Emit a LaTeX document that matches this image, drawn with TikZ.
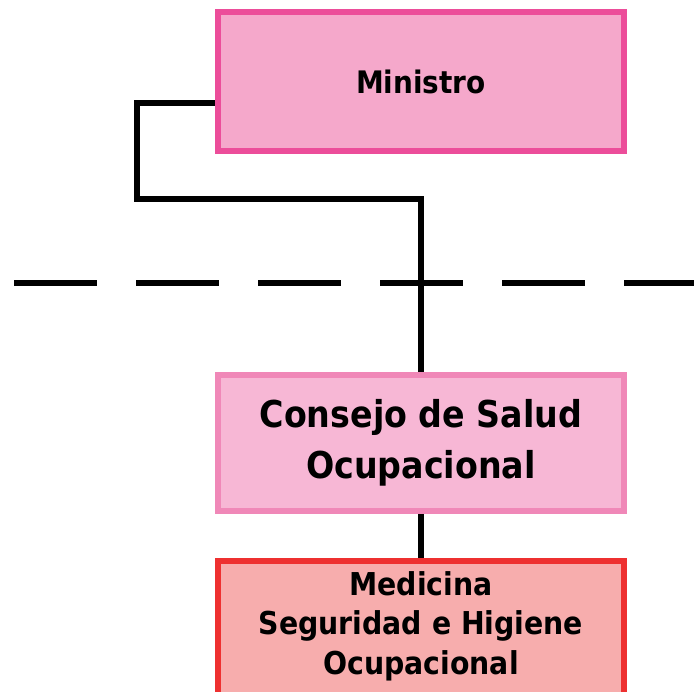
\documentclass[tikz,border=0pt]{standalone}
\usepackage{fontspec}
\setmainfont{DejaVu Sans Condensed}[BoldFont={DejaVu Sans Condensed Bold}]
\definecolor{minfill}{HTML}{F5A8CB}
\definecolor{mindraw}{HTML}{EC4D9A}
\definecolor{consfill}{HTML}{F7B7D5}
\definecolor{consdraw}{HTML}{F088B8}
\definecolor{medfill}{HTML}{F7ADAD}
\definecolor{meddraw}{HTML}{EE3030}
\tikzset{
  orgbox/.style={rectangle, line width=6.5pt, minimum width=406pt, inner sep=0pt, align=center, font=\bfseries},
  conn/.style={line width=6pt, black},
}
\begin{document}
\begin{tikzpicture}[x=1pt,y=-1pt]
\useasboundingbox (0,0) rectangle (694,692);
\clip (0,0) rectangle (694,692);
\node[orgbox, draw=mindraw, fill=minfill, minimum height=139pt, font=\bfseries\fontsize{31}{37}\selectfont] (min) at (421,81.5) {Ministro};
\node[orgbox, draw=consdraw, fill=consfill, minimum height=136pt, font=\bfseries\fontsize{37}{51}\selectfont] (cons) at (421,443) {Consejo de Salud\\Ocupacional};
\node[orgbox, draw=meddraw, fill=medfill, minimum height=170pt, anchor=north] (med) at (421,558) {};
\node[align=center, inner sep=0pt, font=\bfseries\fontsize{31.5}{39.5}\selectfont] (medtxt) at (421,626) {Medicina\\Seguridad e Higiene\\Ocupacional};
\coordinate (bend) at (137,199);
\coordinate (dl) at (14,283);
\coordinate (dr) at (694,283);
\draw[conn, dash pattern=on 83pt off 39pt] (dl) -- (dr);
\draw[conn] ([yshift=-21.5pt]min.west) -| (bend) -| (cons.north);
\draw[conn] (cons.south) -- (med.north);
\end{tikzpicture}
\end{document}
